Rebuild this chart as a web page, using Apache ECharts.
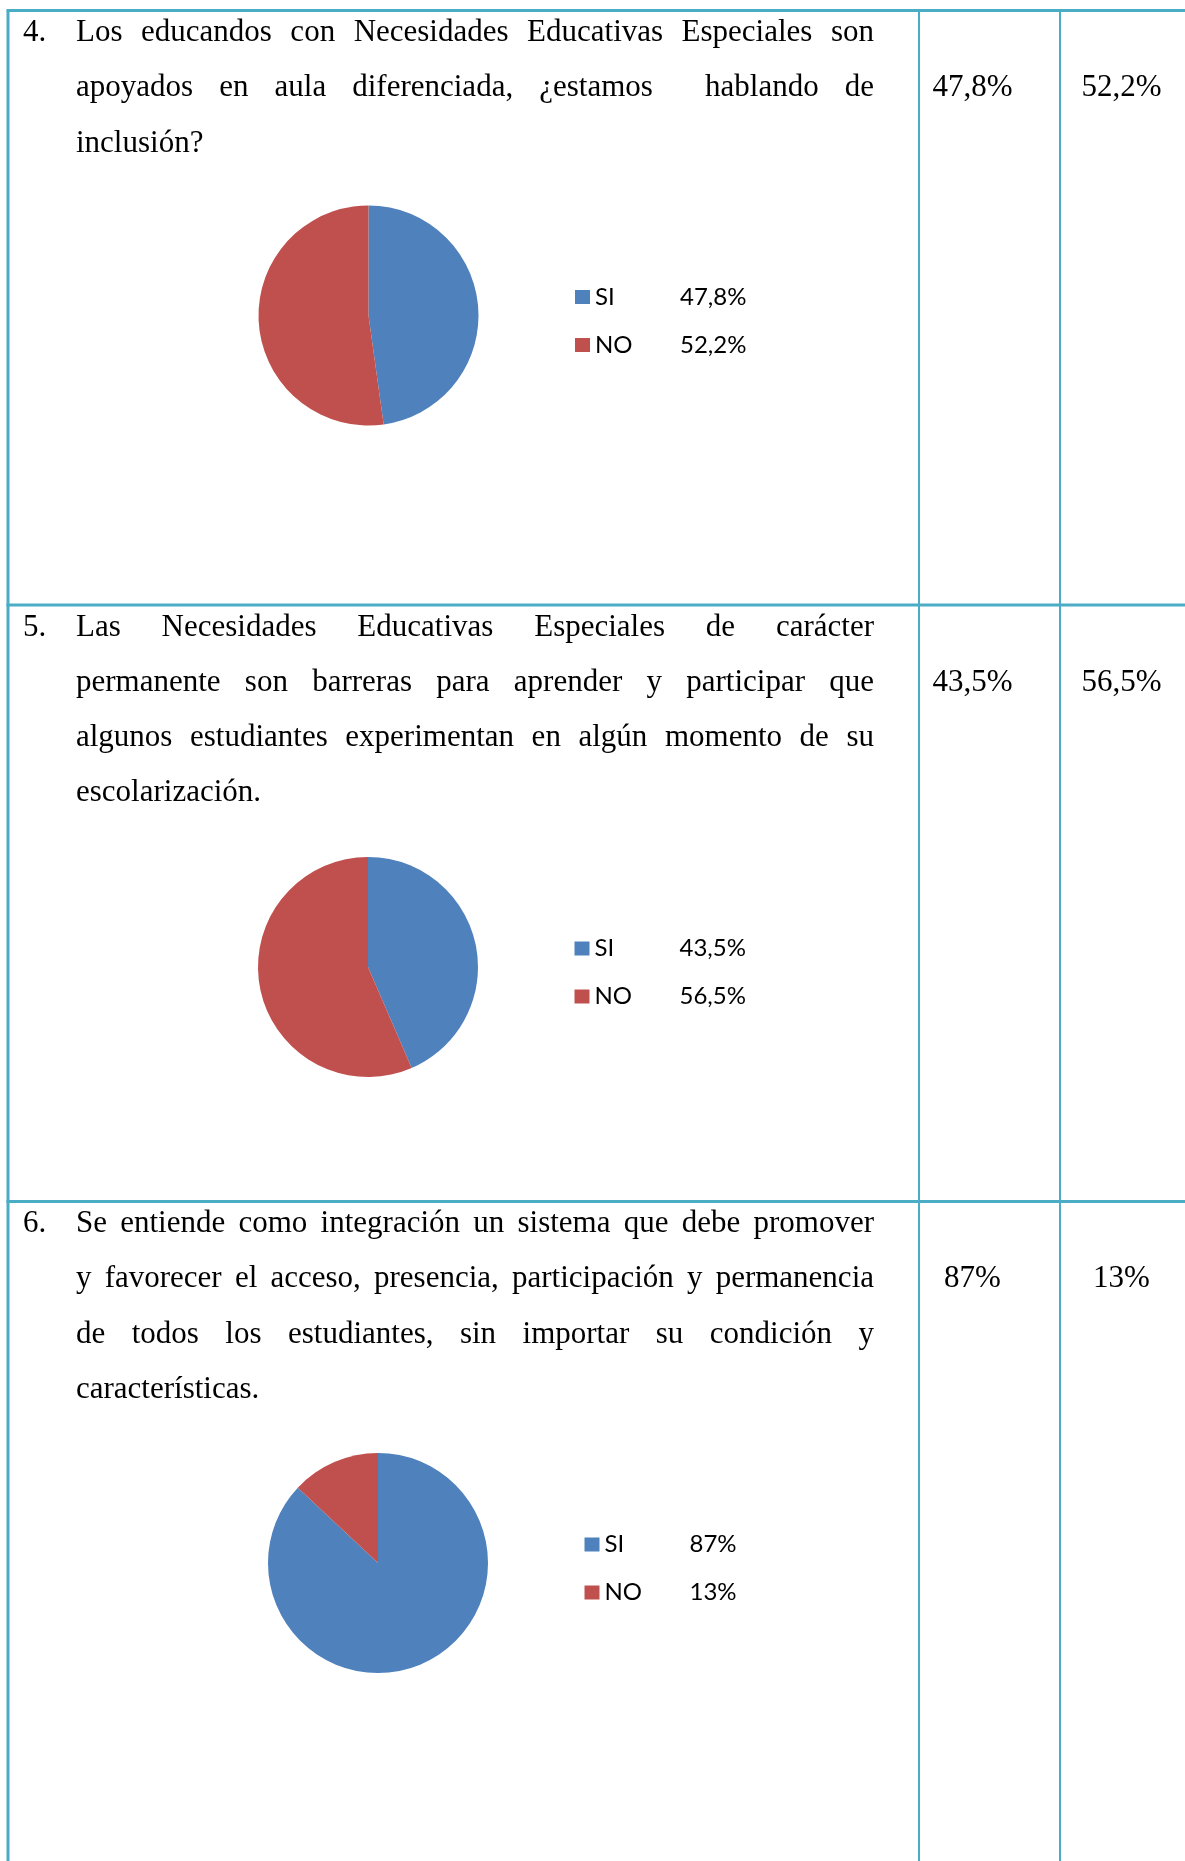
<!DOCTYPE html>
<html>
<head>
<meta charset="utf-8">
<title>Encuesta inclusión</title>
<script src="https://cdn.jsdelivr.net/npm/echarts@6/dist/echarts.min.js"></script>
<style>
html, body { margin: 0; padding: 0; background: #fff; }
#surveyChart { width: 1185px; height: 1861px; }
</style>
</head>
<body>
<div id="surveyChart"></div>
<script>
// data
const questionNumbers = ['4.', '5.', '6.'];
const questionLines = [
  [
    'Los educandos con Necesidades Educativas Especiales son',
    'apoyados en aula diferenciada, ¿estamos  hablando de',
    'inclusión?'
  ],
  [
    'Las Necesidades Educativas Especiales de carácter',
    'permanente son barreras para aprender y participar que',
    'algunos estudiantes experimentan en algún momento de su',
    'escolarización.'
  ],
  [
    'Se entiende como integración un sistema que debe promover',
    'y favorecer el acceso, presencia, participación y permanencia',
    'de todos los estudiantes, sin importar su condición y',
    'características.'
  ]
];
const categories = ['SI', 'NO'];
const siValues = [47.8, 43.5, 87];
const noValues = [52.2, 56.5, 13];

// layout
const rowTops = [10.5, 605, 1201.5];
const pieCenters = [[368.5, 315.5], [368, 967], [378, 1563]];
const pieRadius = 110;
const textLeft = 76, textRight = 874, numLeft = 23;
const firstBaseline = 33, linePitch = 55.2;
const colCenters = [972.5, 1121.5];
const lineColor = '#4BACC6';
const serifFont = '31px "Liberation Serif", "Times New Roman", serif';
const serifMiddle = 10.5; // baseline offset for verticalAlign middle

function fmtPct(v) {
  return String(v).replace('.', ',') + '%';
}

const measureCtx = document.createElement('canvas').getContext('2d');
measureCtx.font = serifFont;

function textEl(str, x, baseline, align) {
  return {
    type: 'text',
    x: x,
    y: baseline - serifMiddle,
    silent: true,
    style: {
      text: str,
      font: serifFont,
      fill: '#000',
      align: align || 'left',
      textAlign: align || 'left',
      verticalAlign: 'middle',
      textVerticalAlign: 'middle'
    }
  };
}

// justified line: spread words between textLeft and textRight
function justifiedLine(line, baseline) {
  const words = line.split(' ');
  const widths = words.map(w => measureCtx.measureText(w).width);
  const total = widths.reduce((a, b) => a + b, 0);
  const gap = (textRight - textLeft - total) / (words.length - 1);
  const els = [];
  let x = textLeft;
  words.forEach((w, i) => {
    if (w) els.push(textEl(w, x, baseline));
    x += widths[i] + gap;
  });
  return els;
}

const graphics = [];
// table lines
graphics.push({ type: 'line', silent: true, shape: { x1: 6.5, y1: rowTops[0], x2: 1185, y2: rowTops[0] }, style: { stroke: lineColor, lineWidth: 3 } });
graphics.push({ type: 'line', silent: true, shape: { x1: 8, y1: rowTops[0], x2: 8, y2: 1861 }, style: { stroke: lineColor, lineWidth: 3 } });
rowTops.slice(1).forEach(y => {
  graphics.push({ type: 'line', silent: true, shape: { x1: 6.5, y1: y, x2: 1185, y2: y }, style: { stroke: lineColor, lineWidth: 3 } });
});
[919, 1060].forEach(x => {
  graphics.push({ type: 'line', silent: true, shape: { x1: x, y1: rowTops[0], x2: x, y2: 1861 }, style: { stroke: lineColor, lineWidth: 2 } });
});

// question texts and percentages
questionLines.forEach((lines, r) => {
  const base0 = rowTops[r] + firstBaseline;
  graphics.push(textEl(questionNumbers[r], numLeft, base0));
  lines.forEach((line, k) => {
    const b = base0 + k * linePitch;
    if (k < lines.length - 1) {
      justifiedLine(line, b).forEach(el => graphics.push(el));
    } else {
      graphics.push(textEl(line, textLeft, b));
    }
  });
  graphics.push(textEl(fmtPct(siValues[r]), colCenters[0], base0 + linePitch, 'center'));
  graphics.push(textEl(fmtPct(noValues[r]), colCenters[1], base0 + linePitch, 'center'));
});

const legendFont = { fontFamily: 'Lato', fontSize: 24, color: '#000', lineHeight: 24 };

const chartDom = document.getElementById('surveyChart');
const myChart = echarts.init(chartDom);
const option = {
  animation: false,
  color: ['#4F81BD', '#C0504D'],
  graphic: graphics,
  legend: pieCenters.map((c, i) => ({
    orient: 'vertical',
    left: c[0] + 206.5,
    top: c[1] - 30.5,
    padding: 0,
    itemWidth: 15,
    itemHeight: 14,
    itemGap: 24,
    icon: 'rect',
    selectedMode: false,
    data: categories,
    formatter: name => {
      const v = name === categories[0] ? siValues[i] : noValues[i];
      return '{n|' + name + '}{v|' + fmtPct(v) + '}';
    },
    textStyle: Object.assign({}, legendFont, {
      rich: {
        n: Object.assign({ width: 85 }, legendFont),
        v: Object.assign({}, legendFont)
      }
    })
  })),
  series: pieCenters.map((c, i) => ({
    type: 'pie',
    center: c,
    radius: pieRadius,
    startAngle: 90,
    clockwise: true,
    silent: true,
    label: { show: false },
    labelLine: { show: false },
    emphasis: { disabled: true },
    data: categories.map((name, k) => ({
      name: name,
      value: k === 0 ? siValues[i] : noValues[i]
    }))
  }))
};
option && myChart.setOption(option);
window.addEventListener('resize', myChart.resize);
</script>
</body>
</html>
